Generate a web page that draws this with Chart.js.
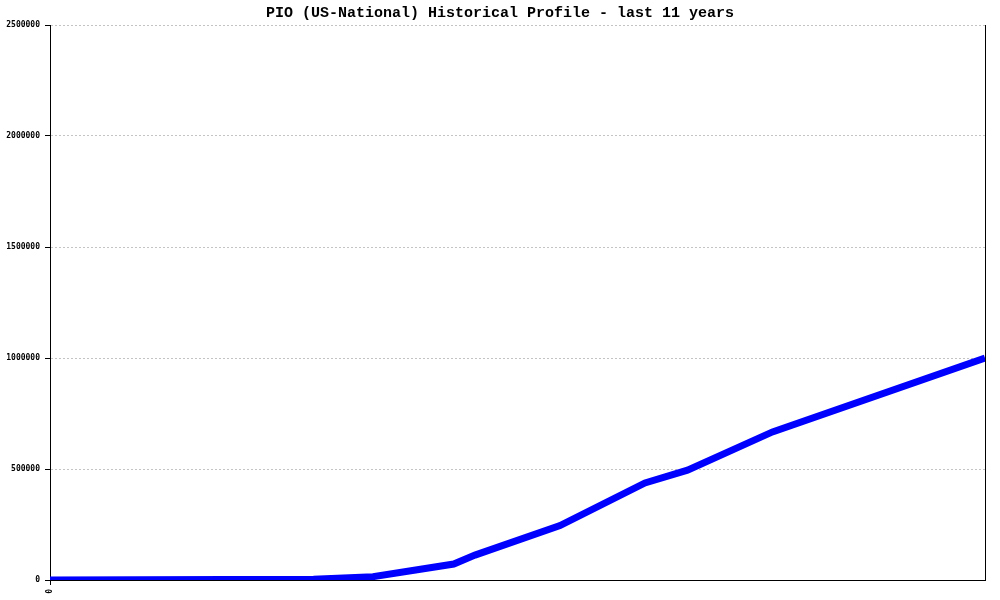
<!DOCTYPE html>
<html>
<head>
<meta charset="utf-8">
<title>PIO Historical Profile</title>
<script src="https://cdn.jsdelivr.net/npm/chart.js@4/dist/chart.umd.min.js"></script>
<style>
    html, body { margin: 0; padding: 0; background: #fff; }
    #wrap { width: 1000px; height: 600px; }
</style>
</head>
<body>
<div id="wrap"><canvas id="profileChart" width="1000" height="600"></canvas></div>
<script>
// Chart data (years since start, prefix count)
const years = [0, 3.1, 3.8, 4.75, 5.0, 6.0, 7.0, 7.5, 8.5, 11];
const values = [0, 3000, 15000, 72000, 112000, 245000, 437000, 495000, 667000, 1000000];
const yTicks = [0, 500000, 1000000, 1500000, 2000000, 2500000];
const titleText = 'PIO (US-National) Historical Profile - last 11 years';

function createProfileChart() {
    const ctx = document.getElementById('profileChart').getContext('2d');
    const tickFont = { family: 'DejaVu Sans Mono', size: 8, weight: 'bold' };

    new Chart(ctx, {
        type: 'line',
        data: {
            datasets: [{
                data: years.map((x, i) => ({ x: x, y: values[i] })),
                borderColor: '#0000ff',
                borderWidth: 7,
                pointRadius: 0,
                tension: 0,
                fill: false
            }]
        },
        options: {
            responsive: false,
            animation: false,
            devicePixelRatio: 1,
            layout: { padding: 0 },
            plugins: {
                legend: { display: false },
                tooltip: { enabled: false },
                title: {
                    display: true,
                    text: titleText,
                    color: '#000',
                    font: { family: 'Liberation Mono', size: 15, weight: 'bold' },
                    padding: { top: 4, bottom: 3 }
                }
            },
            scales: {
                x: {
                    type: 'linear',
                    min: 0,
                    max: 11,
                    afterBuildTicks: s => { s.ticks = [{ value: 0 }]; },
                    afterFit: s => { s.height = 20; },
                    ticks: {
                        color: '#000',
                        font: tickFont,
                        minRotation: 90,
                        maxRotation: 90,
                        padding: 4,
                        callback: v => String(v)
                    },
                    grid: {
                        drawOnChartArea: false,
                        tickLength: 5,
                        tickColor: '#000'
                    },
                    border: { display: true, color: '#000', width: 1 }
                },
                y: {
                    min: 0,
                    max: 2500000,
                    afterBuildTicks: s => { s.ticks = yTicks.map(v => ({ value: v })); },
                    afterFit: s => { s.width = 50; },
                    ticks: {
                        color: '#000',
                        font: tickFont,
                        padding: 5,
                        callback: v => String(v)
                    },
                    grid: {
                        color: c => (c.tick && c.tick.value === 0) ? 'rgba(0,0,0,0)' : '#c4c4c4',
                        tickLength: 5,
                        tickColor: '#000',
                        tickBorderDash: []
                    },
                    border: { display: true, color: '#000', width: 1, dash: [2, 2] }
                },
                // right-hand frame line
                yRight: {
                    position: 'right',
                    min: 0,
                    max: 2500000,
                    afterFit: s => { s.width = 15; },
                    ticks: { display: false },
                    grid: { display: false },
                    border: { display: true, color: '#000', width: 1 }
                }
            }
        }
    });
}

createProfileChart();
</script>
</body>
</html>
